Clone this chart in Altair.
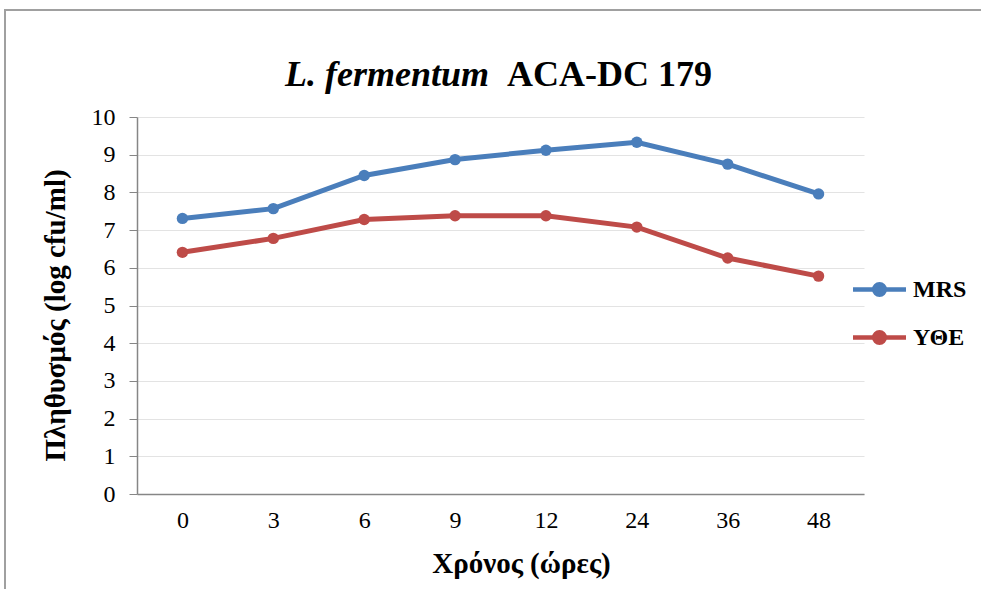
import altair as alt
import pandas as pd

times = ["0", "3", "6", "9", "12", "24", "36", "48"]
mrs = [7.31, 7.57, 8.45, 8.87, 9.12, 9.33, 8.75, 7.96]
yte = [6.41, 6.78, 7.28, 7.38, 7.38, 7.08, 6.26, 5.78]
series = ["MRS", "ΥΘΕ"]
colors = ["#4A7EBB", "#BE4B48"]

rows = []
for name, vals in zip(series, [mrs, yte]):
    for t, v in zip(times, vals):
        rows.append({"t": t, "v": v, "s": name})
df = pd.DataFrame(rows)

FONT = "Liberation Serif, Times New Roman, serif"
W, H = 727, 377
PL, PT, PR, PB = 137, 117, 117, 95

legend_path = ("M-2,0L2,0M-0.4,0A0.4,0.4,0,1,0,0.4,0"
               "A0.4,0.4,0,1,0,-0.4,0Z")

color = alt.Color(
    "s:N",
    scale=alt.Scale(domain=series, range=colors),
    legend=alt.Legend(
        title=None, orient="none", legendX=727, legendY=157,
        symbolType=legend_path, symbolSize=702, symbolStrokeWidth=4.5,
        labelFont=FONT, labelFontSize=24, labelFontWeight="bold",
        labelColor="black", labelOffset=18, rowPadding=18, padding=0,
    ),
)

x = alt.X(
    "t:N", sort=times,
    scale=alt.Scale(padding=0.5),
    axis=alt.Axis(
        title="Χρόνος (ώρες)", labelAngle=0, ticks=False, grid=False,
        domainColor="#868686", domainWidth=1.5,
        labelFont=FONT, labelFontSize=24, labelColor="black", labelPadding=14,
        titleFont=FONT, titleFontSize=29, titleFontWeight="bold", titleColor="black",
        titleX=384, titleY=69, titleAlign="center", titleBaseline="middle",
    ),
)
y = alt.Y(
    "v:Q",
    scale=alt.Scale(domain=[0, 10], nice=False, zero=True),
    axis=alt.Axis(
        title="Πληθυσμός (log cfu/ml)", values=list(range(11)),
        tickSize=8, tickColor="#868686", domainColor="#868686", domainWidth=1.5,
        gridColor="#e3e3e3", gridWidth=1.2,
        labelFont=FONT, labelFontSize=24, labelColor="black", labelPadding=14,
        titleFont=FONT, titleFontSize=29, titleFontWeight="bold", titleColor="black",
        titleX=-82, titleY=198, titleAngle=270, titleAlign="center", titleBaseline="middle",
    ),
)

base = alt.Chart(df).encode(x=x, y=y, color=color)
lines = base.mark_line(strokeWidth=5)
points = base.mark_point(filled=True, size=130, opacity=1)

frame = alt.Chart(pd.DataFrame({"a": [0]})).mark_rect(
    fill="transparent", stroke="#a0a0a0", strokeWidth=2
).encode(
    x=alt.value(-132), y=alt.value(-107),
    x2=alt.value(981 - PL + 20), y2=alt.value(589 - PT + 20),
)

t1 = alt.Chart(pd.DataFrame({"label": ["L. fermentum"]})).mark_text(
    font=FONT, fontSize=36, fontWeight="bold", fontStyle="italic",
    align="right", baseline="alphabetic", color="black",
).encode(text="label:N", x=alt.value(352), y=alt.value(-31))
t2 = alt.Chart(pd.DataFrame({"label": ["ACA-DC 179"]})).mark_text(
    font=FONT, fontSize=36, fontWeight="bold",
    align="left", baseline="alphabetic", color="black",
).encode(text="label:N", x=alt.value(370), y=alt.value(-31))

chart = alt.layer(frame, lines, points, t1, t2).properties(
    width=W, height=H,
    autosize=alt.AutoSizeParams(type="none"),
    padding={"left": PL, "top": PT, "right": PR, "bottom": PB},
    background="white",
).configure_view(strokeWidth=0)

chart.save("out.html", embed_options={"renderer": "svg", "actions": False})
